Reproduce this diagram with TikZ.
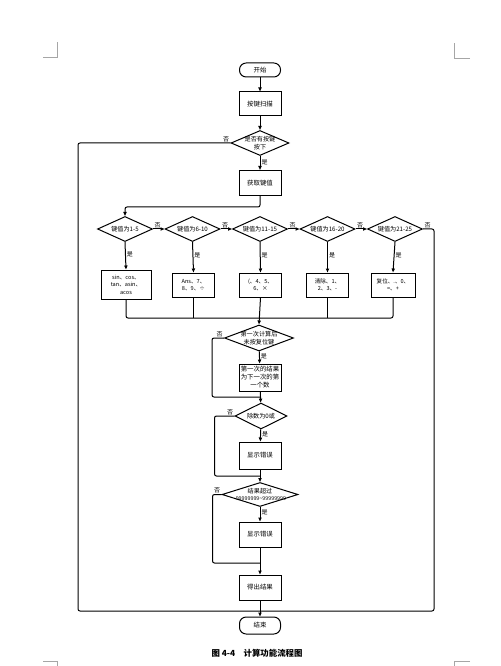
\documentclass[tikz,border=0pt]{standalone}
\usepackage{fontspec}
\setmainfont{Noto Sans CJK SC}
\usetikzlibrary{shapes.geometric,arrows.meta}

\tikzset{every picture/.style={line width=0.75pt}}
\tikzset{
  flow/.style={-{Triangle[length=3pt,width=2.4pt]}},
  elbow/.style={rounded corners=1.5pt},
  termbox/.style={draw, rectangle, rounded corners=5pt, fill=white, minimum width=30.75pt, minimum height=10.5pt, inner sep=0pt, font=\fontsize{4.8}{6}\selectfont},
  procbox/.style={draw, rectangle, fill=white, minimum width=31.5pt, minimum height=18pt, inner sep=0pt, align=center, font=\fontsize{4.8}{6}\selectfont},
  keybox/.style={procbox, font=\fontsize{4.2}{5.6}\selectfont},
  decision/.style={draw, diamond, fill=white, inner sep=0pt, minimum width=41.25pt, minimum height=18.75pt},
  dtext/.style={inner sep=0pt, align=center, font=\fontsize{4.6}{5.8}\selectfont},
  yn/.style={inner sep=0.75pt, font=\fontsize{4.5}{5}\selectfont},
  cropmark/.style={draw=black!35, line width=0.5pt}
}

\begin{document}
\begin{tikzpicture}[x=0.75pt,y=0.75pt,yscale=-1,xscale=1]
\useasboundingbox (0,0) rectangle (500,666);

%Crop marks
\draw [cropmark] (43,57) -- (57,57) -- (57,42);
\draw [cropmark] (470,58) -- (454,58) -- (454,43);
\draw [cropmark] (43,661) -- (57,661) -- (57,666);
\draw [cropmark] (470,661) -- (454,661) -- (454,666);

%Shape: Terminals and boxes
\node [termbox] (start) at (260,70) {开始};
\node [procbox] (scan) at (260,104) {按键扫描};
\node [decision, minimum width=43.5pt] (d0) at (260,143) {};
\node [dtext] (d0t) at (d0.center) {是否有按键\\按下};
\node [procbox, minimum height=18.75pt] (get) at (260,183) {获取键值};

%Shape: key value decisions
\node [decision] (k1) at (125,229) {};
\node [decision] (k2) at (192.5,229) {};
\node [decision] (k3) at (260,229) {};
\node [decision] (k4) at (327.5,229) {};
\node [decision] (k5) at (395,229) {};
\node [dtext] (k1t) at (k1.center) {键值为1-5};
\node [dtext] (k2t) at (k2.center) {键值为6-10};
\node [dtext] (k3t) at (k3.center) {键值为11-15};
\node [dtext] (k4t) at (k4.center) {键值为16-20};
\node [dtext] (k5t) at (k5.center) {键值为21-25};

%Shape: key groups
\node [keybox, minimum width=37.5pt, minimum height=21.75pt] (b1) at (126,284.5) {sin、cos、\\tan、asin、\\acos};
\node [keybox] (b2) at (193.5,285) {Ans、7、\\8、9、÷};
\node [keybox] (b3) at (260.5,285) {(、4、5、\\6、×};
\node [keybox] (b4) at (327.5,285) {清除、1、\\2、3、-};
\node [keybox, minimum width=33pt] (b5) at (393,285) {复位、.、0、\\=、+};

%Shape: calculation checks
\node [decision, minimum width=51.75pt, minimum height=19.5pt] (c1) at (259,338) {};
\node [dtext] (c1t) at (c1.center) {第一次计算后\\未按复位键};
\node [procbox, minimum height=20.25pt] (n1) at (260,377.5) {第一次的结果\\为下一次的第\\一个数};
\node [decision, minimum width=39pt, minimum height=19.5pt] (c2) at (261,416) {};
\node [dtext] (c2t) at (c2.center) {除数为0或};
\node [procbox, minimum height=20.25pt] (err1) at (260,455.5) {显示错误};
\node [decision, minimum width=57pt, minimum height=18pt] (c3) at (260,494.5) {};
\node [dtext] (c3t) at (c3.center) {结果超过\\[-0.5pt]{\fontsize{4}{4.5}\selectfont -99999999\textasciitilde 99999999}};
\node [procbox, minimum height=18.75pt] (err2) at (260,534.5) {显示错误};
\node [procbox, minimum height=18.75pt] (out) at (260,587.5) {得出结果};
\node [termbox, minimum height=12.75pt] (end) at (260,625.5) {结束};

%Coordinates for joins
\coordinate (split) at (260,207);
\coordinate (join) at (260,318);
\coordinate (c1j) at (260,397);
\coordinate (c2j) at (260,476);
\coordinate (c3j) at (260,563);
\coordinate (lft) at (78,611);
\coordinate (rgt) at (434,611);
\coordinate (bot) at (260,611);

%Straight Lines: main column
\draw [flow] (start) -- (scan);
\draw [flow] (scan) -- (d0);
\draw [flow] (d0) -- node [yn, right, pos=0.45] (y0) {是} (get);
\draw [flow, elbow] (get.south) -- (split) -| (k1.north);

%Straight Lines: decision chain
\draw [flow] (k1.east) -- (k2.west);
\draw [flow] (k2.east) -- (k3.west);
\draw [flow] (k3.east) -- (k4.west);
\draw [flow] (k4.east) -- (k5.west);
\node [yn, anchor=south west] (no1) at (k1.east) {否};
\node [yn, anchor=south west] (no2) at (k2.east) {否};
\node [yn, anchor=south west] (no3) at (k3.east) {否};
\node [yn, anchor=south west] (no4) at (k4.east) {否};
\node [yn, anchor=south west] (no5) at (k5.east) {否};
\node [yn, anchor=south east] (no0) at (d0.west) {否};

%Straight Lines: yes branches
\foreach \i in {1,...,5}{
  \draw [flow] (k\i.south) -- node [yn, right, pos=0.45] (y\i) {是} (b\i.north);
}
\draw [elbow] (b1.south) |- (join);
\draw [elbow] (b5.south) |- (join);
\draw (b2.south) -- (b2.south |- join);
\draw (b4.south) -- (b4.south |- join);
\draw [flow] (b3.south) -- (c1.north);

%Straight Lines: checks
\draw [flow] (c1) -- node [yn, right, pos=0.4] (y6) {是} (n1);
\draw [flow] (n1) -- (c2);
\draw [flow] (c2) -- node [yn, right, pos=0.4] (y7) {是} (err1);
\draw [flow] (err1) -- (c3);
\draw [flow] (c3) -- node [yn, right, pos=0.4] (y8) {是} (err2);
\draw [flow] (err2) -- (out);
\draw [flow] (out) -- (end);
\node [yn, anchor=south east] (no6) at (c1.west) {否};
\node [yn, anchor=south east] (no7) at (c2.west) {否};
\node [yn, anchor=south east] (no8) at (c3.west) {否};

%Curve Lines: loops back
\draw [elbow] (c1.west) -- ++(-12,0) |- (c1j);
\draw [elbow] (c2.west) -- ++(-20,0) |- (c2j);
\draw [elbow] (c3.west) -- ++(-9,0) |- (c3j);
\draw [elbow] (d0.west) -| (lft) -- (bot);
\draw [elbow] (k5.east) -| (rgt) -- (bot);

% Text Node
\node [font=\fontsize{6.3}{7}\selectfont\bfseries] (cap) at (257,653) {图 4-4\quad 计算功能流程图};

\end{tikzpicture}
\end{document}
